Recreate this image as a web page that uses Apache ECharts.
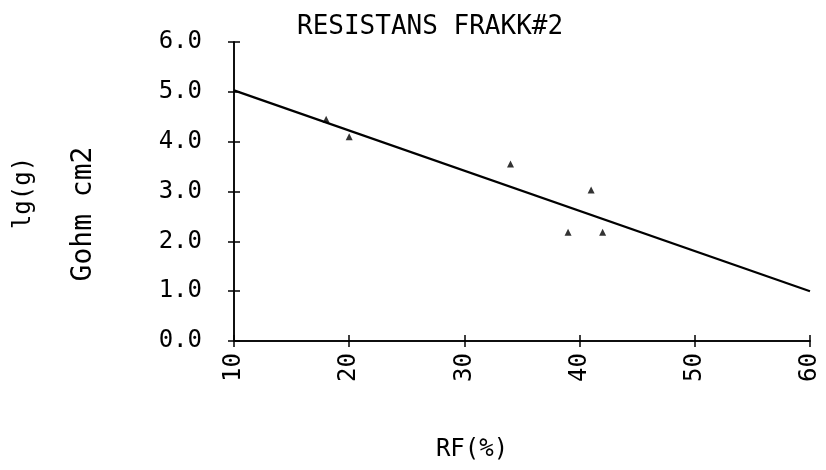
<!DOCTYPE html>
<html>
<head>
<meta charset="utf-8">
<script src="https://cdn.jsdelivr.net/npm/echarts@6/dist/echarts.min.js"></script>
<style>html,body{margin:0;padding:0;background:#fff;}#c{width:826px;height:470px;}</style>
</head>
<body>
<div id="c"></div>
<script>
var titleText = 'RESISTANS FRAKK#2';
var xName = 'RF(%)';
var yName1 = 'lg(g)';
var yName2 = 'Gohm cm2';
var pointsRF = [18, 20, 34, 41, 39, 42];
var pointsLg = [4.45, 4.1, 3.55, 3.03, 2.18, 2.18];
var fitRF = [10, 60];
var fitLg = [5.03, 1.0];

var FONT = 'DejaVu Sans Mono';
var chart = echarts.init(document.getElementById('c'), null, {renderer: 'canvas'});

var scatterData = pointsRF.map(function (x, i) { return [x, pointsLg[i]]; });
var fitData = fitRF.map(function (x, i) { return [x, fitLg[i]]; });

var axisLine = {show: true, onZero: false, lineStyle: {color: '#000', width: 1.5}};
var tickStyle = {color: '#000', width: 1.5};

chart.setOption({
  backgroundColor: '#fff',
  animation: false,
  title: {
    text: titleText, left: 292, top: 9,
    textStyle: {fontFamily: FONT, fontSize: 26, fontWeight: 'normal', color: '#000'}
  },
  grid: {left: 234, right: 16, top: 42, bottom: 129},
  xAxis: [{
    type: 'value', min: 10, max: 60, interval: 10, position: 'bottom',
    axisLine: axisLine,
    axisTick: {show: true, length: 6, lineStyle: tickStyle},
    axisLabel: {rotate: 90, margin: 12, fontFamily: FONT, fontSize: 24, color: '#000'},
    splitLine: {show: false}
  }, {
    type: 'value', min: 10, max: 60, interval: 10, position: 'bottom',
    axisLine: axisLine,
    axisTick: {show: true, length: -6, lineStyle: tickStyle},
    axisLabel: {show: false}, splitLine: {show: false}
  }],
  yAxis: [{
    type: 'value', min: 0, max: 6, interval: 1, position: 'left',
    axisLine: axisLine,
    axisTick: {show: true, length: 6, lineStyle: tickStyle},
    axisLabel: {margin: 32, fontFamily: FONT, fontSize: 24, color: '#000',
      formatter: function (v) { return v.toFixed(1); }},
    splitLine: {show: false}
  }, {
    type: 'value', min: 0, max: 6, interval: 1, position: 'left',
    axisLine: axisLine,
    axisTick: {show: true, length: -6, lineStyle: tickStyle},
    axisLabel: {show: false}, splitLine: {show: false}
  }],
  graphic: [
    {type: 'text', x: 24, y: 193, rotation: Math.PI / 2,
      style: {text: yName1, fontFamily: FONT, fontSize: 24, fill: '#000', align: 'center', verticalAlign: 'middle'}},
    {type: 'text', x: 84, y: 214, rotation: Math.PI / 2,
      style: {text: yName2, fontFamily: FONT, fontSize: 28, fill: '#000', align: 'center', verticalAlign: 'middle'}},
    {type: 'text', x: 472, y: 450,
      style: {text: xName, fontFamily: FONT, fontSize: 24, fill: '#000', align: 'center', verticalAlign: 'middle'}}
  ],
  series: [{
    type: 'line', data: fitData, xAxisIndex: 0, yAxisIndex: 0,
    symbol: 'none', lineStyle: {color: '#000', width: 2.2}, silent: true
  }, {
    type: 'scatter', data: scatterData, xAxisIndex: 1, yAxisIndex: 1,
    symbol: 'triangle', symbolSize: 7, itemStyle: {color: '#000'}
  }]
});
</script>
</body>
</html>
